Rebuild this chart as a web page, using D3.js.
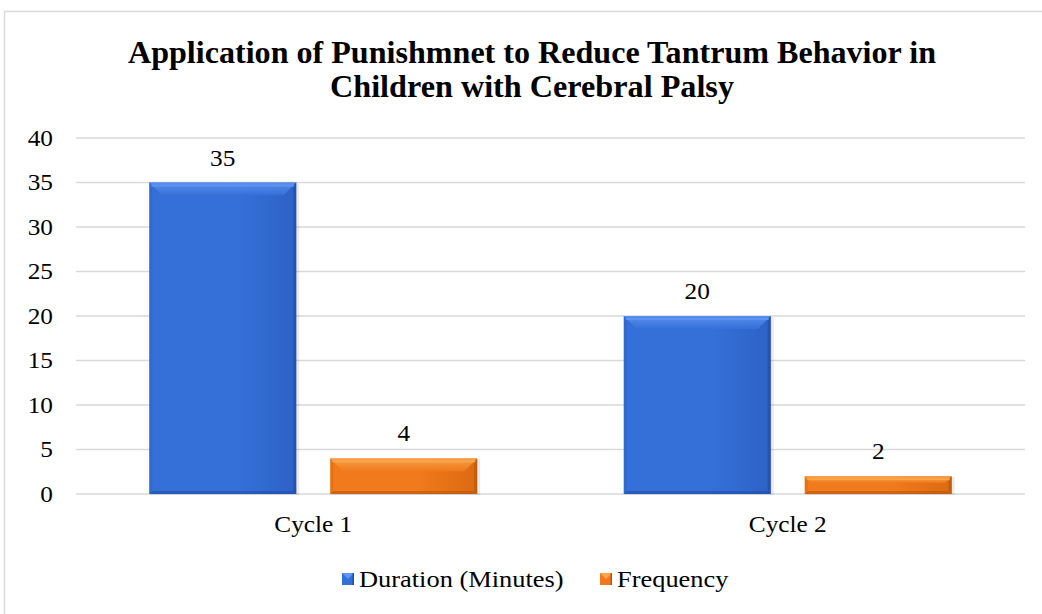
<!DOCTYPE html>
<html>
<head>
<meta charset="utf-8">
<script src="https://cdn.jsdelivr.net/npm/d3@7/dist/d3.min.js"></script>
<style>
  html, body { margin: 0; padding: 0; background: #fff; }
  svg { display: block; }
</style>
</head>
<body>
<svg id="chart" width="1042" height="614"></svg>
<script>
const categories = ["Cycle 1", "Cycle 2"];
const seriesNames = ["Duration (Minutes)", "Frequency"];
const durationValues = [35, 20];
const frequencyValues = [4, 2];
const yTicks = [0, 5, 10, 15, 20, 25, 30, 35, 40];
const titleLines = ["Application of Punishmnet to Reduce Tantrum Behavior in", "Children with Cerebral Palsy"];

const seriesValues = [durationValues, frequencyValues];
const colors = [
  { main: "#3570d8", light: "#5f95f2", dark: "#1f4fa6", edge: "#2d62c6" },
  { main: "#f07a1c", light: "#fda64e", dark: "#b9560c", edge: "#dc6a12" }
];
const FONT = "Liberation Serif";

const STRETCH = 1.1;
function stretch(sel) {
  sel.each(function () {
    const w = this.getComputedTextLength();
    d3.select(this).attr("textLength", w * STRETCH).attr("lengthAdjust", "spacingAndGlyphs");
  });
}

const svg = d3.select("#chart");

// outer chart border
svg.append("rect").attr("x", 4.5).attr("y", 11.5).attr("width", 1100).attr("height", 700)
  .attr("fill", "#fff").attr("stroke", "#d9d9d9").attr("stroke-width", 1.5);

// title
titleLines.forEach((t, i) => {
  svg.append("text")
    .attr("x", 532).attr("y", 63 + i * 34)
    .attr("text-anchor", "middle")
    .attr("font-family", FONT)
    .attr("font-size", 31).attr("font-weight", "bold")
    .attr("fill", "#000")
    .attr("textLength", i === 0 ? 808 : 404)
    .attr("lengthAdjust", "spacingAndGlyphs")
    .text(t);
});

const plotLeft = 76, plotRight = 1025, plotTop = 138, plotBottom = 494;
const y = d3.scaleLinear().domain([0, 40]).range([plotBottom, plotTop]);
const x0 = d3.scaleBand().domain(categories).range([plotLeft, plotRight]).padding(0);
const x1 = d3.scaleBand().domain(seriesNames).range([0, x0.bandwidth()])
  .paddingInner(0.188).paddingOuter(0.405);

// gridlines
svg.append("g").selectAll("line").data(yTicks).join("line")
  .attr("x1", plotLeft).attr("x2", plotRight)
  .attr("y1", d => y(d)).attr("y2", d => y(d))
  .attr("stroke", "#d9d9d9").attr("stroke-width", 1.5);

// y axis labels
const yAxis = svg.append("g").attr("transform", `translate(${plotLeft},0)`)
  .call(d3.axisLeft(y).tickValues(yTicks).tickSize(0).tickPadding(23));
yAxis.attr("font-family", FONT).attr("font-size", 23);
yAxis.select(".domain").remove();
yAxis.selectAll("text").attr("font-family", FONT).attr("font-size", 23).attr("fill", "#000").call(stretch);

// x axis labels
const xAxis = svg.append("g").attr("transform", `translate(0,${plotBottom})`)
  .call(d3.axisBottom(x0).tickSize(0).tickPadding(22));
xAxis.attr("font-family", FONT).attr("font-size", 23);
xAxis.select(".domain").remove();
xAxis.selectAll("text").attr("font-family", FONT).attr("font-size", 23).attr("fill", "#000").call(stretch);

// gradients
const defs = svg.append("defs");
colors.forEach((c, i) => {
  const g = defs.append("linearGradient").attr("id", "grad" + i)
    .attr("x1", 0).attr("y1", 0).attr("x2", 1).attr("y2", 0);
  g.append("stop").attr("offset", "0%").attr("stop-color", c.main);
  g.append("stop").attr("offset", "60%").attr("stop-color", c.main);
  g.append("stop").attr("offset", "100%").attr("stop-color", c.edge);
  const t = defs.append("linearGradient").attr("id", "top" + i)
    .attr("x1", 0).attr("y1", 0).attr("x2", 0).attr("y2", 1);
  t.append("stop").attr("offset", "0%").attr("stop-color", c.light);
  t.append("stop").attr("offset", "100%").attr("stop-color", c.main);
});

// bars
const bars = [];
categories.forEach((cat, ci) => {
  seriesNames.forEach((s, si) => {
    bars.push({ cat, s, si, v: seriesValues[si][ci] });
  });
});

const barG = svg.append("g");
const labelG = svg.append("g");
bars.forEach(b => {
  const bx = x0(b.cat) + x1(b.s);
  const bw = x1.bandwidth();
  const by = y(b.v);
  const bh = y(0) - y(b.v);
  const c = colors[b.si];
  const bev = Math.min(13, bh / 2.6);
  const g = barG.append("g");
  g.append("rect").attr("x", bx + 1).attr("y", by + 1).attr("width", bw + 2).attr("height", bh)
    .attr("fill", "#000").attr("opacity", 0.08);
  g.append("rect").attr("x", bx).attr("y", by).attr("width", bw).attr("height", bh)
    .attr("fill", `url(#grad${b.si})`);
  g.append("path").attr("d", `M${bx},${by}L${bx + bw},${by}L${bx + bw - bev},${by + bev}L${bx + bev},${by + bev}Z`)
    .attr("fill", `url(#top${b.si})`).attr("opacity", 0.85);
  g.append("path").attr("d", `M${bx + bw},${by}L${bx + bw},${by + bh}L${bx + bw - 3},${by + bh - 3}L${bx + bw - 3},${by + 3}Z`)
    .attr("fill", c.dark).attr("opacity", 0.7);
  g.append("path").attr("d", `M${bx},${by + bh}L${bx + bw},${by + bh}L${bx + bw - 3},${by + bh - 3}L${bx + 3},${by + bh - 3}Z`)
    .attr("fill", c.dark).attr("opacity", 0.6);
  g.append("path").attr("d", `M${bx},${by}L${bx + 3},${by + 3}L${bx + 3},${by + bh - 3}L${bx},${by + bh}Z`)
    .attr("fill", c.edge).attr("opacity", 0.5);
  g.append("rect").attr("x", bx + 2).attr("y", by + 2).attr("width", bw - 4).attr("height", 2)
    .attr("fill", c.light).attr("opacity", 0.9);
  labelG.append("text").attr("x", bx + bw / 2).attr("y", by - 17)
    .attr("text-anchor", "middle").attr("font-family", FONT).attr("font-size", 23)
    .attr("fill", "#000").text(b.v).call(stretch);
});

// legend
const legendItems = [
  { name: seriesNames[0], x: 342, si: 0 },
  { name: seriesNames[1], x: 600, si: 1 }
];
const lg = svg.append("g");
legendItems.forEach(it => {
  const c = colors[it.si];
  lg.append("rect").attr("x", it.x).attr("y", 573).attr("width", 12).attr("height", 12).attr("fill", c.main);
  lg.append("path").attr("d", `M${it.x},573L${it.x + 12},573L${it.x + 6},579Z`).attr("fill", c.light);
  lg.append("rect").attr("x", it.x + 10.5).attr("y", 573).attr("width", 1.5).attr("height", 12).attr("fill", c.dark);
  lg.append("text").attr("x", it.x + 17).attr("y", 587).attr("font-family", FONT).attr("font-size", 24)
    .attr("fill", "#000").text(it.name).call(stretch);
});
</script>
</body>
</html>
